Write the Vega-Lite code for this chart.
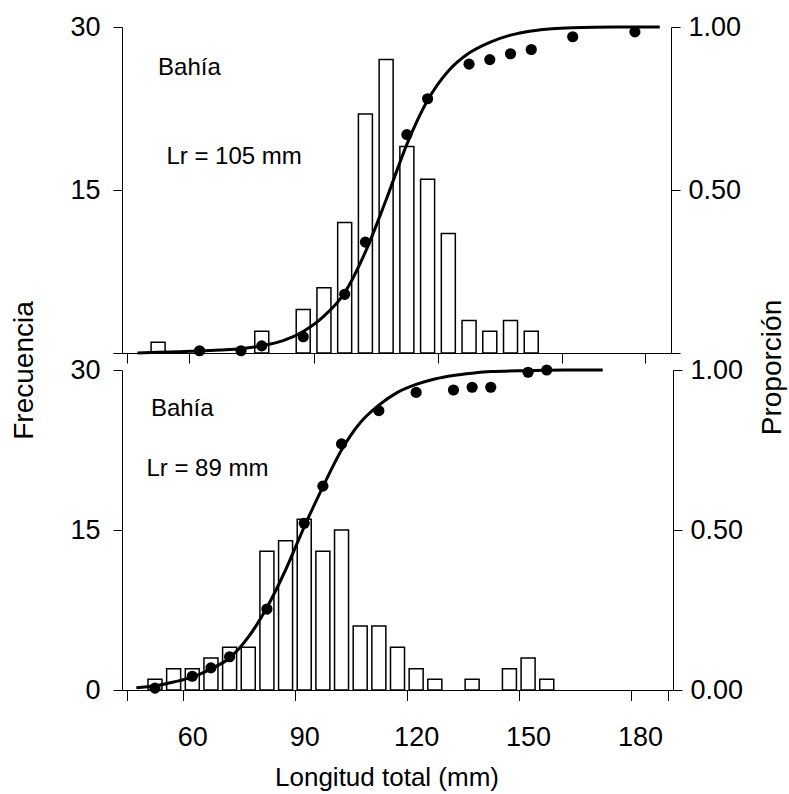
{
  "$schema": "https://vega.github.io/schema/vega-lite/v6.json",
  "padding": {"left": 10, "top": 13, "right": 5, "bottom": 2},
  "background": "white",
  "spacing": 17,
  "bounds": "flush",
  "config": {
    "view": {"stroke": null},
    "font": "Liberation Sans",
    "axis": {
      "grid": false,
      "domainColor": "black",
      "tickColor": "black",
      "labelColor": "black",
      "titleColor": "black",
      "labelFont": "Liberation Sans",
      "labelFontSize": 27,
      "titleFont": "Liberation Sans",
      "titleFontSize": 28,
      "titleFontWeight": "normal",
      "domainWidth": 1,
      "tickWidth": 1
    }
  },
  "datasets": {
    "topBars": [
      {"L": 50, "n": 1}, {"L": 75, "n": 2}, {"L": 85, "n": 4}, {"L": 90, "n": 6},
      {"L": 95, "n": 12}, {"L": 100, "n": 22}, {"L": 105, "n": 27}, {"L": 110, "n": 19},
      {"L": 115, "n": 16}, {"L": 120, "n": 11}, {"L": 125, "n": 3}, {"L": 130, "n": 2},
      {"L": 135, "n": 3}, {"L": 140, "n": 2}
    ],
    "topProp": [
      {"L": 60, "p": 0.007}, {"L": 70, "p": 0.007}, {"L": 75, "p": 0.022}, {"L": 85, "p": 0.05},
      {"L": 95, "p": 0.18}, {"L": 100, "p": 0.34}, {"L": 110, "p": 0.67}, {"L": 115, "p": 0.78},
      {"L": 125, "p": 0.886}, {"L": 130, "p": 0.9}, {"L": 135, "p": 0.918}, {"L": 140, "p": 0.931},
      {"L": 150, "p": 0.97}, {"L": 165, "p": 0.985}
    ],
    "topFit": [
      {"L": 45, "p": 0.0}, {"L": 50, "p": 0.002}, {"L": 55, "p": 0.004}, {"L": 60, "p": 0.006},
      {"L": 65, "p": 0.009}, {"L": 70, "p": 0.013}, {"L": 75, "p": 0.022}, {"L": 80, "p": 0.037},
      {"L": 85, "p": 0.066}, {"L": 90, "p": 0.113}, {"L": 95, "p": 0.185}, {"L": 100, "p": 0.31},
      {"L": 105, "p": 0.47}, {"L": 110, "p": 0.64}, {"L": 115, "p": 0.775}, {"L": 120, "p": 0.865},
      {"L": 125, "p": 0.92}, {"L": 130, "p": 0.953}, {"L": 135, "p": 0.975}, {"L": 140, "p": 0.988},
      {"L": 145, "p": 0.995}, {"L": 150, "p": 0.998}, {"L": 160, "p": 1.0}, {"L": 171, "p": 1.0}
    ],
    "botBars": [
      {"L": 50, "n": 1}, {"L": 55, "n": 2}, {"L": 60, "n": 2}, {"L": 65, "n": 3}, {"L": 70, "n": 4},
      {"L": 75, "n": 4}, {"L": 80, "n": 13}, {"L": 85, "n": 14}, {"L": 90, "n": 16}, {"L": 95, "n": 13},
      {"L": 100, "n": 15}, {"L": 105, "n": 6}, {"L": 110, "n": 6}, {"L": 115, "n": 4}, {"L": 120, "n": 2},
      {"L": 125, "n": 1}, {"L": 135, "n": 1}, {"L": 145, "n": 2}, {"L": 150, "n": 3}, {"L": 155, "n": 1}
    ],
    "botProp": [
      {"L": 50, "p": 0.006}, {"L": 60, "p": 0.043}, {"L": 65, "p": 0.069}, {"L": 70, "p": 0.104},
      {"L": 80, "p": 0.253}, {"L": 90, "p": 0.521}, {"L": 95, "p": 0.637}, {"L": 100, "p": 0.769},
      {"L": 110, "p": 0.873}, {"L": 120, "p": 0.93}, {"L": 130, "p": 0.9375}, {"L": 135, "p": 0.946},
      {"L": 140, "p": 0.946}, {"L": 150, "p": 0.993}, {"L": 155, "p": 1.0}
    ],
    "botFit": [
      {"L": 45, "p": 0.007}, {"L": 50, "p": 0.013}, {"L": 55, "p": 0.025}, {"L": 60, "p": 0.04},
      {"L": 65, "p": 0.066}, {"L": 70, "p": 0.1}, {"L": 75, "p": 0.165}, {"L": 80, "p": 0.258},
      {"L": 85, "p": 0.375}, {"L": 90, "p": 0.51}, {"L": 95, "p": 0.635}, {"L": 100, "p": 0.75},
      {"L": 105, "p": 0.835}, {"L": 110, "p": 0.89}, {"L": 115, "p": 0.93}, {"L": 120, "p": 0.955},
      {"L": 125, "p": 0.972}, {"L": 130, "p": 0.983}, {"L": 135, "p": 0.99}, {"L": 140, "p": 0.995},
      {"L": 150, "p": 0.998}, {"L": 160, "p": 1.0}, {"L": 170, "p": 1.0}
    ],
    "one": [{}]
  },
  "vconcat": [
    {
      "width": 549,
      "height": 326,
      "resolve": {"scale": {"y": "independent"}, "axis": {"x": "independent", "y": "independent"}},
      "layer": [
        {
          "data": {"name": "topBars"},
          "mark": {"type": "bar", "width": 14, "fill": "white", "stroke": "black", "strokeWidth": 1.5},
          "encoding": {
            "x": {"field": "L", "type": "quantitative",
                  "scale": {"domain": [42.5, 172.5], "nice": false, "zero": false},
                  "axis": {"orient": "bottom", "values": [42.5, 57.5, 87.5, 117.5, 147.5, 167.5], "labels": false, "title": null, "tickSize": 10}},
            "y": {"field": "n", "type": "quantitative",
                  "scale": {"domain": [0, 30], "nice": false},
                  "axis": {"orient": "left", "values": [0, 15, 30], "labelExpr": "datum.value == 0 ? '' : datum.label",
                           "tickSize": 9, "labelPadding": 13,
                           "title": "Frecuencia", "titleAngle": 270, "titleX": -98, "titleY": 343,
                           "titleBaseline": "middle", "titleAlign": "center"}}
          }
        },
        {
          "data": {"name": "topFit"},
          "mark": {"type": "line", "color": "black", "strokeWidth": 3, "interpolate": "monotone"},
          "encoding": {
            "x": {"field": "L", "type": "quantitative", "scale": {"domain": [42.5, 172.5], "nice": false, "zero": false}, "axis": null},
            "y": {"field": "p", "type": "quantitative", "scale": {"domain": [0, 1], "nice": false}, "axis": null}
          }
        },
        {
          "data": {"name": "topProp"},
          "mark": {"type": "circle", "color": "black", "size": 125, "opacity": 1},
          "encoding": {
            "x": {"field": "L", "type": "quantitative", "scale": {"domain": [42.5, 172.5], "nice": false, "zero": false}, "axis": null},
            "y": {"field": "p", "type": "quantitative", "scale": {"domain": [0, 1], "nice": false},
                  "axis": {"orient": "right", "values": [0, 0.5, 1], "format": ".2f",
                           "labelExpr": "datum.value == 0 ? '' : datum.label",
                           "tickSize": 9, "labelPadding": 8,
                           "title": "Proporción", "titleAngle": 270, "titleX": 101, "titleY": 340,
                           "titleBaseline": "middle", "titleAlign": "center"}}
          }
        },
        {
          "data": {"name": "one"},
          "mark": {"type": "text", "align": "left", "baseline": "alphabetic", "fontSize": 24, "font": "Liberation Sans", "color": "black", "text": "Bahía"},
          "encoding": {
            "x": {"datum": 50, "type": "quantitative", "scale": {"domain": [42.5, 172.5], "nice": false, "zero": false}, "axis": null},
            "y": {"datum": 25.54, "type": "quantitative", "scale": {"domain": [0, 30], "nice": false}, "axis": null}
          }
        },
        {
          "data": {"name": "one"},
          "mark": {"type": "text", "align": "left", "baseline": "alphabetic", "fontSize": 24, "font": "Liberation Sans", "color": "black", "text": "Lr = 105 mm"},
          "encoding": {
            "x": {"datum": 52, "type": "quantitative", "scale": {"domain": [42.5, 172.5], "nice": false, "zero": false}, "axis": null},
            "y": {"datum": 17.41, "type": "quantitative", "scale": {"domain": [0, 30], "nice": false}, "axis": null}
          }
        }
      ]
    },
    {
      "width": 551,
      "height": 320,
      "resolve": {"scale": {"y": "independent"}, "axis": {"x": "independent", "y": "independent"}},
      "layer": [
        {
          "data": {"name": "botBars"},
          "mark": {"type": "bar", "width": 14, "fill": "white", "stroke": "black", "strokeWidth": 1.5},
          "encoding": {
            "x": {"field": "L", "type": "quantitative",
                  "scale": {"domain": [42.5, 187.5], "nice": false, "zero": false},
                  "axis": {"orient": "bottom", "values": [42.5, 57.5, 87.5, 117.5, 147.5, 177.5, 187.5], "labels": false, "title": null, "tickSize": 10.5}},
            "y": {"field": "n", "type": "quantitative",
                  "scale": {"domain": [0, 30], "nice": false},
                  "axis": {"orient": "left", "values": [0, 15, 30], "tickSize": 9, "labelPadding": 13, "title": null}}
          }
        },
        {
          "data": {"name": "botFit"},
          "mark": {"type": "line", "color": "black", "strokeWidth": 3, "interpolate": "monotone"},
          "encoding": {
            "x": {"field": "L", "type": "quantitative", "scale": {"domain": [42.5, 187.5], "nice": false, "zero": false}, "axis": null},
            "y": {"field": "p", "type": "quantitative", "scale": {"domain": [0, 1], "nice": false}, "axis": null}
          }
        },
        {
          "data": {"name": "botProp"},
          "mark": {"type": "circle", "color": "black", "size": 125, "opacity": 1},
          "encoding": {
            "x": {"field": "L", "type": "quantitative", "scale": {"domain": [42.5, 187.5], "nice": false, "zero": false},
                  "axis": {"orient": "bottom", "values": [60, 90, 120, 150, 180], "ticks": false, "tickSize": 0, "domain": false,
                           "labelPadding": 55.7, "labelBaseline": "alphabetic",
                           "title": "Longitud total (mm)", "titleX": 264.5, "titleY": 95, "titleFontSize": 26,
                           "titleBaseline": "alphabetic", "titleAlign": "center"}},
            "y": {"field": "p", "type": "quantitative", "scale": {"domain": [0, 1], "nice": false},
                  "axis": {"orient": "right", "values": [0, 0.5, 1], "format": ".2f",
                           "tickSize": 9, "labelPadding": 8, "title": null}}
          }
        },
        {
          "data": {"name": "one"},
          "mark": {"type": "text", "align": "left", "baseline": "alphabetic", "fontSize": 24, "font": "Liberation Sans", "color": "black", "text": "Bahía"},
          "encoding": {
            "x": {"datum": 48.9, "type": "quantitative", "scale": {"domain": [42.5, 187.5], "nice": false, "zero": false}, "axis": null},
            "y": {"datum": 25.66, "type": "quantitative", "scale": {"domain": [0, 30], "nice": false}, "axis": null}
          }
        },
        {
          "data": {"name": "one"},
          "mark": {"type": "text", "align": "left", "baseline": "alphabetic", "fontSize": 24, "font": "Liberation Sans", "color": "black", "text": "Lr = 89 mm"},
          "encoding": {
            "x": {"datum": 47.7, "type": "quantitative", "scale": {"domain": [42.5, 187.5], "nice": false, "zero": false}, "axis": null},
            "y": {"datum": 20.03, "type": "quantitative", "scale": {"domain": [0, 30], "nice": false}, "axis": null}
          }
        }
      ]
    }
  ]
}
